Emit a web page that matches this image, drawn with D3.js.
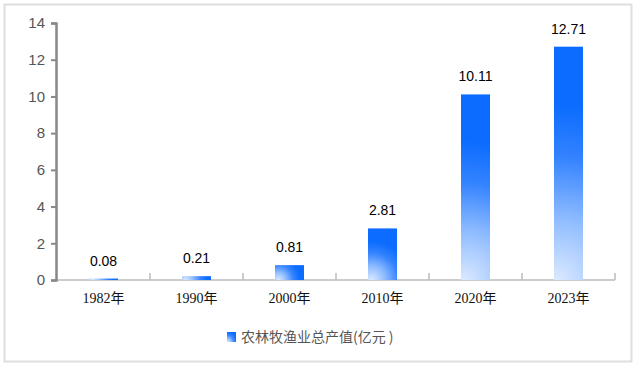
<!DOCTYPE html>
<html><head><meta charset="utf-8">
<script src="https://cdn.jsdelivr.net/npm/d3@7"></script>
<style>body{margin:0;background:#fff}svg{display:block}</style>
</head><body>
<script>
const categories = ["1982年","1990年","2000年","2010年","2020年","2023年"];
const values = [0.08, 0.21, 0.81, 2.81, 10.11, 12.71];
const yTicks = [0,2,4,6,8,10,12,14];
const seriesName = "农林牧渔业总产值(亿元 )";

const W = 640, H = 367;
const svg = d3.select("body").append("svg").attr("width", W).attr("height", H);

svg.append("rect").attr("x",4.5).attr("y",4.5).attr("width",627).attr("height",357)
  .attr("fill","#fff").attr("stroke","#dedede").attr("stroke-width",2);

const defs = svg.append("defs");
const stops = [[0,"#dae9ff"],[0.35,"#8fbcff"],[0.7,"#3483ff"],[1,"#0b6cff"]];

const x = d3.scaleBand().domain(categories).range([57, 615]).paddingInner(0).paddingOuter(0);
const y = d3.scaleLinear().domain([0,14]).range([280, 23]);

// x axis
const xg = svg.append("g").attr("transform","translate(0,280)");
xg.append("line").attr("x1",57).attr("x2",615).attr("stroke","#bbb").attr("stroke-width",1.5);
const bounds = categories.map(c => x(c)+x.bandwidth());
xg.selectAll("line.t").data(bounds).join("line").attr("class","t")
  .attr("x1",d=>d).attr("x2",d=>d).attr("y1",-7).attr("y2",0)
  .attr("stroke","#bbb").attr("stroke-width",1.5);
xg.selectAll("text").data(categories).join("text")
  .attr("x",d=>x(d)+x.bandwidth()/2).attr("y",23)
  .attr("text-anchor","middle").attr("font-size",14)
  .attr("font-family","'Liberation Serif','Noto Sans CJK SC',serif").attr("fill","#111")
  .text(d=>d);

// y axis
const yAxis = d3.axisLeft(y).tickValues(yTicks).tickSize(5).tickSizeOuter(5).tickPadding(6);
const yg = svg.append("g").attr("transform","translate(56,0)").call(yAxis);
yg.select(".domain").attr("stroke","#888").attr("stroke-width",2.5);
yg.selectAll(".tick line").attr("stroke","#888").attr("stroke-width",2);
yg.selectAll(".tick text").attr("font-size",15).attr("fill","#555")
  .attr("font-family","'Liberation Sans',Arial,sans-serif");

// bars with per-bar radial gradient (light at bottom-left)
const bw = 29;
values.forEach((v,i)=>{
  const bx = x(categories[i])+x.bandwidth()/2-bw/2;
  const h = y(0)-y(v);
  const g = defs.append("radialGradient").attr("id","g"+i).attr("gradientUnits","userSpaceOnUse")
    .attr("cx",bx+0.12*bw).attr("cy",y(0)).attr("r",0.75*Math.max(bw,h));
  stops.forEach(s=>g.append("stop").attr("offset",s[0]).attr("stop-color",s[1]));
});
svg.selectAll("rect.bar").data(values).join("rect").attr("class","bar")
  .attr("x",(d,i)=>x(categories[i])+x.bandwidth()/2-bw/2)
  .attr("y",d=>y(d)).attr("width",bw).attr("height",d=>y(0)-y(d))
  .attr("fill",(d,i)=>`url(#g${i})`);

svg.selectAll("text.val").data(values).join("text").attr("class","val")
  .attr("x",(d,i)=>x(categories[i])+x.bandwidth()/2)
  .attr("y",d=>y(d)-13)
  .attr("text-anchor","middle").attr("font-size",14).attr("fill","#000")
  .attr("font-family","'Liberation Sans',Arial,sans-serif")
  .text(d=>d.toFixed(2));

// legend
const lgr = defs.append("radialGradient").attr("id","lg").attr("cx",0.1).attr("cy",1).attr("r",1);
stops.forEach(s=>lgr.append("stop").attr("offset",s[0]).attr("stop-color",s[1]));
svg.append("rect").attr("x",227).attr("y",332).attr("width",9).attr("height",10).attr("fill","url(#lg)");
svg.append("text").attr("x",241).attr("y",342).attr("font-size",14).attr("fill","#555")
  .attr("font-family","'Noto Sans CJK SC',sans-serif").text(seriesName);
</script>
</body></html>
